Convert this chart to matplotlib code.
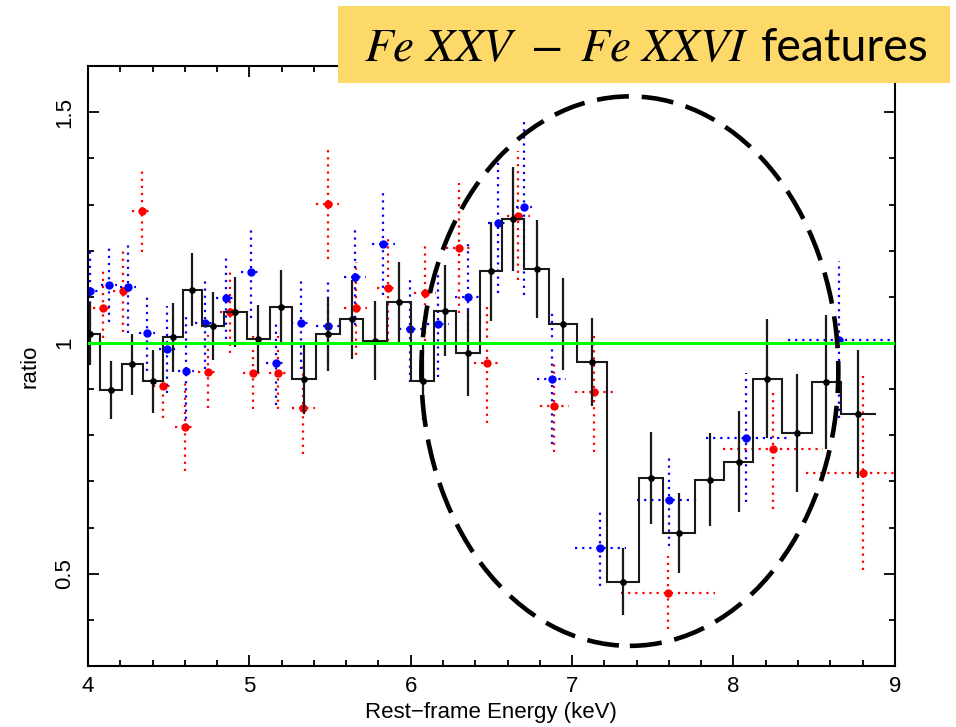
import matplotlib.pyplot as plt
import numpy as np
from matplotlib.patches import Ellipse, Rectangle
from matplotlib.ticker import MultipleLocator

plt.rcParams['font.family'] = ['Liberation Sans', 'DejaVu Sans']
plt.rcParams['mathtext.fontset'] = 'stix'

# summed ratio (black histogram): bin edges in keV, ratio and 1-sigma error
edges = [3.950, 4.074, 4.209, 4.343, 4.463, 4.587, 4.708, 4.845, 4.983, 5.128,
         5.262, 5.411, 5.561, 5.706, 5.853, 6.003, 6.144, 6.280, 6.429, 6.568,
         6.703, 6.858, 7.028, 7.219, 7.412, 7.564, 7.763, 7.942, 8.122, 8.298,
         8.488, 8.665, 8.882]
ratio = [1.020, 0.898, 0.954, 0.917, 1.012, 1.115, 1.037, 1.068, 1.009, 1.078,
         0.922, 1.019, 1.051, 1.005, 1.088, 0.918, 1.070, 0.978, 1.155, 1.269,
         1.160, 1.041, 0.959, 0.483, 0.708, 0.588, 0.704, 0.743, 0.922, 0.804,
         0.915, 0.846]
ratio_err = [0.068, 0.062, 0.066, 0.068, 0.074, 0.079, 0.074, 0.076, 0.074, 0.080,
             0.075, 0.079, 0.085, 0.085, 0.087, 0.085, 0.098, 0.094, 0.107, 0.113,
             0.106, 0.099, 0.095, 0.073, 0.100, 0.087, 0.100, 0.110, 0.129, 0.128,
             0.145, 0.139]

# first detector (blue)
blue_e = [4.010, 4.130, 4.246, 4.367, 4.489, 4.605, 4.725, 4.855, 5.010, 5.165,
          5.320, 5.485, 5.654, 5.830, 5.997, 6.170, 6.352, 6.538, 6.703, 6.873,
          7.176, 7.600, 8.080, 8.655]
blue_de = [0.05, 0.05, 0.05, 0.05, 0.05, 0.05, 0.06, 0.06, 0.06, 0.06,
           0.06, 0.07, 0.07, 0.07, 0.07, 0.07, 0.08, 0.06, 0.05, 0.09,
           0.16, 0.20, 0.25, 0.32]
blue_r = [1.112, 1.126, 1.121, 1.022, 0.986, 0.940, 1.044, 1.098, 1.154, 0.956,
          1.043, 1.037, 1.144, 1.215, 1.030, 1.041, 1.099, 1.259, 1.295, 0.923,
          0.556, 0.660, 0.795, 1.007]
blue_dr = [0.088, 0.080, 0.100, 0.082, 0.094, 0.120, 0.100, 0.090, 0.100, 0.090,
           0.100, 0.095, 0.105, 0.110, 0.115, 0.115, 0.120, 0.150, 0.190, 0.143,
           0.082, 0.100, 0.140, 0.170]

# second detector (red)
red_e = [4.095, 4.215, 4.336, 4.463, 4.600, 4.742, 4.880, 5.020, 5.180, 5.334,
         5.485, 5.658, 5.861, 6.088, 6.299, 6.470, 6.667, 6.889, 7.137, 7.596,
         8.246, 8.800]
red_de = [0.065, 0.06, 0.065, 0.06, 0.06, 0.06, 0.06, 0.06, 0.06, 0.07,
          0.07, 0.07, 0.07, 0.07, 0.08, 0.08, 0.07, 0.09, 0.12, 0.29,
          0.31, 0.35]
red_r = [1.075, 1.113, 1.287, 0.907, 0.818, 0.938, 1.068, 0.936, 0.936, 0.860,
         1.302, 1.075, 1.120, 1.109, 1.206, 0.957, 1.276, 0.863, 0.893, 0.459,
         0.771, 0.718]
red_dr = [0.080, 0.090, 0.090, 0.070, 0.095, 0.080, 0.090, 0.080, 0.080, 0.100,
          0.120, 0.100, 0.115, 0.105, 0.140, 0.130, 0.140, 0.100, 0.130, 0.080,
          0.130, 0.210]


def dotted_errorbar(ax, x, y, xerr, yerr, color):
    eb = ax.errorbar(x, y, xerr=xerr, yerr=yerr, fmt='o', ms=5, color=color,
                     elinewidth=1.6, capsize=0, zorder=2)
    for coll in eb[2]:
        coll.set_linestyle((0, (1, 2.2)))
    return eb


fig = plt.figure(figsize=(9.56, 7.27), dpi=100)
ax = fig.add_axes([0.092, 0.084, 0.844, 0.825])

dotted_errorbar(ax, red_e, red_r, red_de, red_dr, '#ff0000')
dotted_errorbar(ax, blue_e, blue_r, blue_de, blue_dr, '#0000ff')

edges_a = np.array(edges)
centers = 0.5 * (edges_a[:-1] + edges_a[1:])
ax.stairs(ratio, edges_a, baseline=None, color='#1a1a1a', lw=1.5, zorder=3)
ax.errorbar(centers, ratio, yerr=ratio_err, fmt='o', ms=3.8, color='black',
            ecolor='#1a1a1a', elinewidth=1.6, capsize=0, zorder=3)

ax.axhline(1.0, color='#00ff00', lw=2.2, zorder=4)

# highlight around the iron K band
ax.add_patch(Ellipse((7.358, 0.939), 2.584, 1.191, fill=False, edgecolor='black',
                     lw=3.3, ls=(0, (7, 2.8)), zorder=5, clip_on=False))

ax.set_xlim(4, 9)
ax.set_ylim(0.3, 1.6)
ax.set_xticks([4, 5, 6, 7, 8, 9])
ax.xaxis.set_minor_locator(MultipleLocator(0.2))
ax.set_yticks([0.5, 1, 1.5], labels=['0.5', '1', '1.5'])
ax.yaxis.set_minor_locator(MultipleLocator(0.1))
plt.setp(ax.get_yticklabels(), rotation=90, va='center')

ax.tick_params(which='both', direction='in', top=True, right=True, width=1.3,
               labelsize=16, colors='black')
ax.tick_params(which='major', length=8, pad=7)
ax.tick_params(which='minor', length=4.5)
ax.tick_params(axis='y', which='major', pad=9)
for sp in ax.spines.values():
    sp.set_linewidth(1.5)

ax.set_xlabel('Rest\u2212frame Energy (keV)', fontsize=16, labelpad=4)
ax.set_ylabel('ratio', fontsize=16, labelpad=10)

# title banner
fig.add_artist(Rectangle((0.3536, 0.8858), 0.64, 0.1059, transform=fig.transFigure,
                         facecolor='#fdd96a', edgecolor='none', zorder=10))
t1 = fig.text(0.381, 0.916, r'$Fe\ XXV\ -\ Fe\ XXVI$', fontsize=34,
              va='baseline', ha='left', zorder=11)
fig.canvas.draw()
bb = t1.get_window_extent(renderer=fig.canvas.get_renderer())
x_next = (bb.x1 + 12) / fig.bbox.width
fig.text(x_next, 0.916, 'features', fontsize=33.5, family=['Lato', 'DejaVu Sans'],
         va='baseline', ha='left', zorder=11)

fig.savefig('out.png', dpi=100, facecolor='white')
plt.close(fig)
